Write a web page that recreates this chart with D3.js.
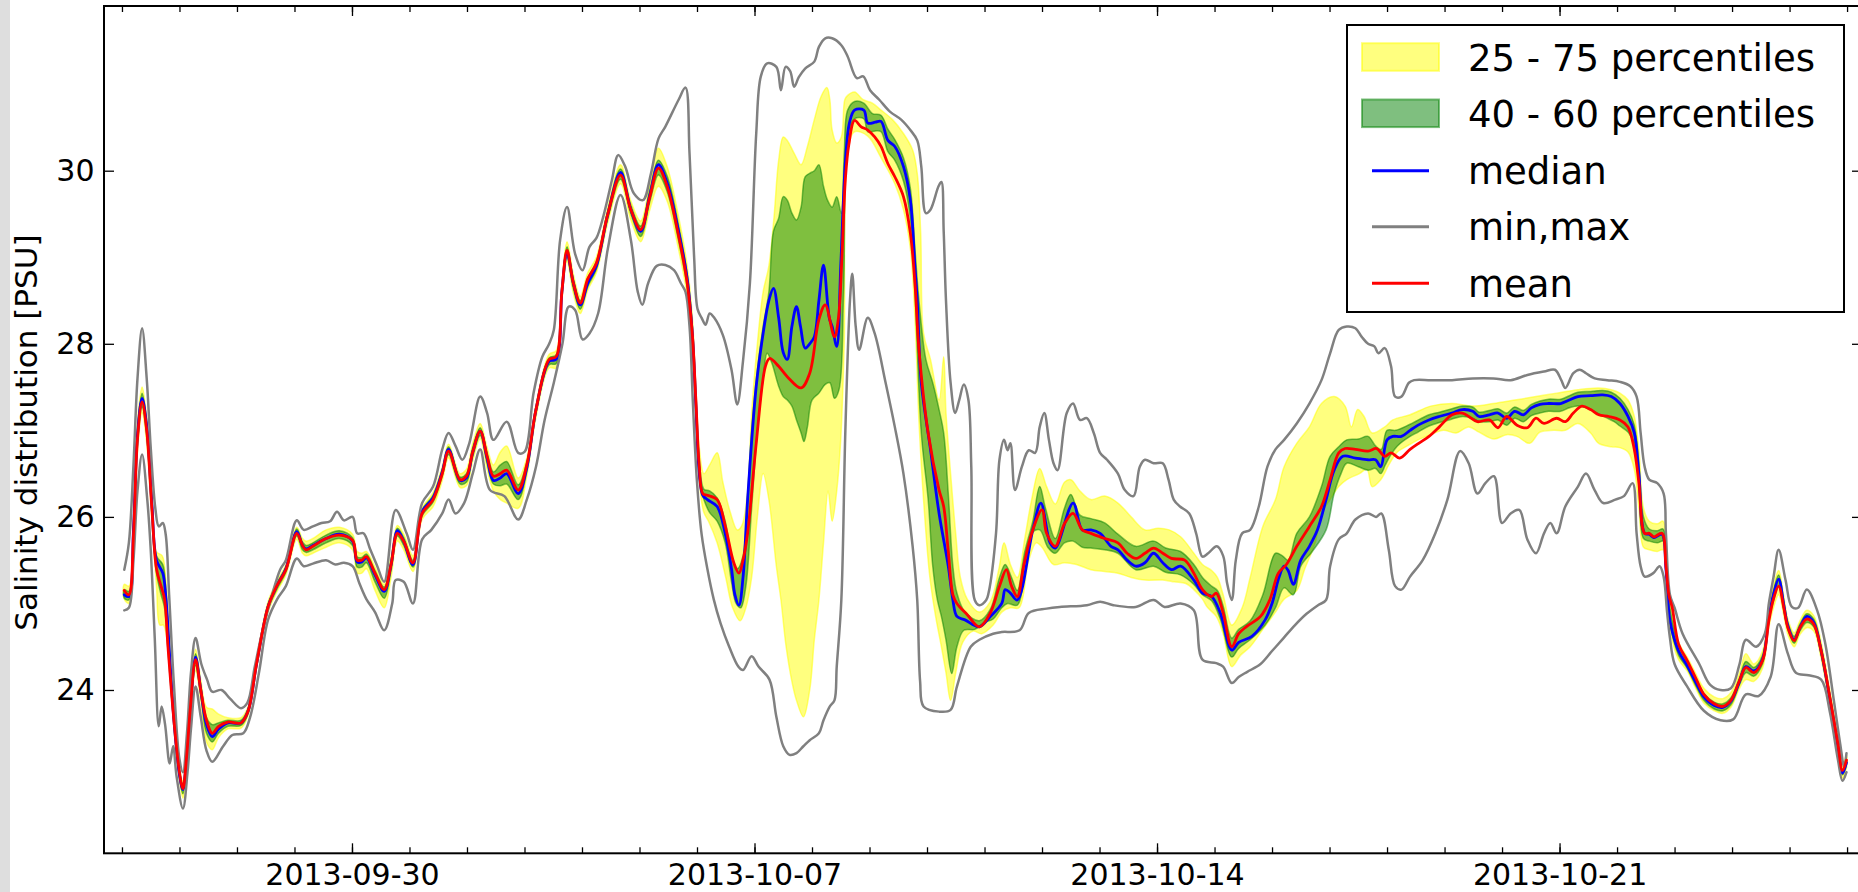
<!DOCTYPE html>
<html><head><meta charset="utf-8">
<script src="https://cdn.jsdelivr.net/npm/d3@7"></script>
<style>
html,body{margin:0;padding:0;background:#fff;}
svg{display:block;font-family:"DejaVu Sans",sans-serif;}
</style></head><body>
<svg id="chart" width="1858" height="892"></svg>
<script>
// ---------------- data ----------------
const startDate = "2013-09-26T00:00:00Z";           // day offset 0
const xDomain = ["2013-09-25T16:30:00Z", "2013-10-26T06:14:00Z"];
const yDomain = [22.113, 31.903];
const xTickLabels = ["2013-09-30", "2013-10-07", "2013-10-14", "2013-10-21"];
const yTickValues = [24, 26, 28, 30];
const yLabel = "Salinity distribution [PSU]";
const legendLabels = ["25 - 75 percentiles", "40 - 60 percentiles", "median", "min,max", "mean"];

// each series: [day offset from startDate, salinity PSU]
const meanLine = [[0.04,25.15],[0.12,25.1],[0.2,25.8],[0.27,26.9],[0.35,27.33],[0.43,27.0],[0.52,26.1],[0.6,25.4],[0.68,25.2],[0.74,25.05],[0.8,24.5],[0.91,23.6],[1.0,23.05],[1.06,22.86],[1.12,23.2],[1.19,23.8],[1.28,24.35],[1.37,24.0],[1.47,23.65],[1.57,23.5],[1.68,23.58],[1.84,23.63],[2.07,23.62],[2.19,23.75],[2.34,24.3],[2.54,24.96],[2.69,25.2],[2.85,25.39],[3.04,25.81],[3.14,25.67],[3.2,25.62],[3.32,25.66],[3.55,25.75],[3.78,25.79],[4.01,25.73],[4.09,25.5],[4.17,25.5],[4.25,25.54],[4.4,25.35],[4.56,25.16],[4.68,25.45],[4.79,25.81],[4.9,25.72],[5.06,25.47],[5.22,26.04],[5.41,26.2],[5.57,26.5],[5.68,26.76],[5.88,26.43],[5.99,26.47],[6.1,26.75],[6.23,26.99],[6.35,26.7],[6.46,26.47],[6.58,26.5],[6.69,26.54],[6.89,26.31],[7.04,26.6],[7.2,27.24],[7.43,27.82],[7.55,27.85],[7.65,28.6],[7.74,29.08],[7.85,28.7],[7.97,28.47],[8.1,28.75],[8.25,28.93],[8.45,29.5],[8.67,29.95],[8.85,29.55],[9.02,29.32],[9.18,29.7],[9.33,30.03],[9.48,29.82],[9.67,29.28],[9.83,28.7],[9.92,28.1],[9.98,27.35],[10.04,26.58],[10.1,26.27],[10.18,26.25],[10.35,26.2],[10.49,25.9],[10.64,25.47],[10.73,25.35],[10.8,25.5],[10.88,25.81],[11.03,26.85],[11.19,27.74],[11.26,27.83],[11.42,27.74],[11.57,27.62],[11.81,27.49],[11.96,27.66],[12.12,28.28],[12.23,28.45],[12.39,28.08],[12.46,28.3],[12.52,29.0],[12.58,29.9],[12.64,30.3],[12.74,30.58],[12.85,30.51],[12.97,30.47],[13.09,30.39],[13.2,30.28],[13.32,30.08],[13.44,29.93],[13.59,29.7],[13.71,29.28],[13.79,28.7],[13.86,27.93],[14.02,26.97],[14.21,26.31],[14.29,26.12],[14.37,25.6],[14.45,25.1],[14.52,25.0],[14.7,24.87],[14.91,24.73],[15.1,24.89],[15.26,25.2],[15.38,25.39],[15.47,25.2],[15.57,25.08],[15.68,25.43],[15.82,25.81],[16.0,26.08],[16.08,25.81],[16.23,25.66],[16.39,25.92],[16.54,26.04],[16.7,25.85],[16.85,25.81],[17.09,25.75],[17.32,25.7],[17.48,25.58],[17.63,25.52],[17.79,25.58],[17.94,25.64],[18.1,25.58],[18.25,25.52],[18.48,25.5],[18.64,25.35],[18.79,25.16],[18.95,25.08],[19.03,25.12],[19.15,24.89],[19.3,24.5],[19.42,24.65],[19.55,24.73],[19.8,24.85],[19.96,25.04],[20.11,25.35],[20.25,25.45],[20.43,25.66],[20.65,25.89],[20.86,26.12],[21.01,26.43],[21.16,26.74],[21.27,26.79],[21.45,26.78],[21.67,26.76],[21.82,26.79],[21.96,26.7],[22.07,26.74],[22.22,26.68],[22.4,26.78],[22.55,26.85],[22.73,26.93],[22.91,27.04],[23.13,27.18],[23.31,27.2],[23.42,27.16],[23.57,27.1],[23.78,27.12],[23.93,27.03],[24.08,27.16],[24.26,27.06],[24.44,27.03],[24.59,27.14],[24.73,27.08],[24.95,27.14],[25.1,27.1],[25.24,27.2],[25.39,27.28],[25.54,27.24],[25.68,27.18],[25.86,27.16],[26.05,27.12],[26.19,27.04],[26.3,26.78],[26.38,26.39],[26.48,25.81],[26.56,25.81],[26.64,25.77],[26.78,25.81],[26.85,25.43],[26.9,25.1],[26.96,24.95],[27.07,24.53],[27.22,24.34],[27.36,24.15],[27.51,23.95],[27.69,23.84],[27.84,23.81],[27.98,23.88],[28.13,24.11],[28.24,24.26],[28.38,24.2],[28.53,24.34],[28.64,24.8],[28.72,25.05],[28.81,25.2],[28.9,24.95],[28.97,24.72],[29.08,24.57],[29.18,24.72],[29.3,24.82],[29.42,24.76],[29.55,24.45],[29.7,23.92],[29.84,23.38],[29.92,23.07],[29.99,23.19]];

const medianLine = [[0.04,25.1],[0.12,25.08],[0.2,25.85],[0.27,26.95],[0.35,27.37],[0.43,27.05],[0.52,26.15],[0.6,25.5],[0.71,25.35],[0.76,25.1],[0.82,24.5],[0.91,23.6],[1.0,23.02],[1.06,22.85],[1.12,23.2],[1.19,23.8],[1.28,24.38],[1.37,24.0],[1.47,23.6],[1.57,23.46],[1.68,23.55],[1.84,23.62],[2.07,23.62],[2.19,23.75],[2.34,24.3],[2.54,24.96],[2.69,25.2],[2.85,25.4],[3.04,25.83],[3.14,25.67],[3.2,25.63],[3.32,25.67],[3.55,25.75],[3.78,25.8],[4.01,25.72],[4.09,25.48],[4.17,25.48],[4.25,25.53],[4.4,25.33],[4.56,25.14],[4.68,25.45],[4.79,25.84],[4.9,25.72],[5.06,25.45],[5.22,26.06],[5.41,26.22],[5.57,26.52],[5.68,26.78],[5.88,26.42],[5.99,26.45],[6.1,26.75],[6.23,26.99],[6.35,26.68],[6.46,26.42],[6.58,26.45],[6.69,26.5],[6.89,26.27],[7.04,26.57],[7.2,27.24],[7.43,27.8],[7.55,27.82],[7.65,28.6],[7.74,29.05],[7.85,28.7],[7.97,28.45],[8.1,28.7],[8.25,28.9],[8.45,29.5],[8.67,29.98],[8.85,29.55],[9.02,29.3],[9.18,29.72],[9.33,30.07],[9.48,29.86],[9.67,29.33],[9.83,28.75],[9.92,28.1],[9.98,27.3],[10.04,26.5],[10.1,26.25],[10.18,26.2],[10.35,26.12],[10.49,25.81],[10.6,25.4],[10.66,25.1],[10.73,24.98],[10.8,25.3],[10.88,26.2],[11.03,27.51],[11.15,28.12],[11.25,28.5],[11.33,28.64],[11.42,28.3],[11.5,27.9],[11.57,27.82],[11.65,28.2],[11.73,28.43],[11.8,28.2],[11.88,27.95],[11.96,28.0],[12.04,28.08],[12.12,28.5],[12.2,28.91],[12.3,28.3],[12.35,28.2],[12.43,27.97],[12.5,28.9],[12.58,30.1],[12.65,30.55],[12.74,30.7],[12.9,30.7],[12.97,30.55],[13.1,30.56],[13.2,30.57],[13.32,30.35],[13.44,30.28],[13.59,30.05],[13.71,29.66],[13.79,28.89],[13.83,28.5],[13.9,27.55],[14.06,26.78],[14.21,26.04],[14.37,25.43],[14.45,25.04],[14.52,24.85],[14.66,24.81],[14.91,24.73],[15.1,24.85],[15.3,25.0],[15.36,25.16],[15.45,25.12],[15.57,25.04],[15.84,25.85],[15.98,26.16],[16.14,25.7],[16.23,25.64],[16.54,26.16],[16.7,25.85],[16.85,25.85],[17.01,25.81],[17.2,25.66],[17.32,25.62],[17.48,25.5],[17.63,25.43],[17.79,25.47],[17.94,25.58],[18.1,25.47],[18.25,25.39],[18.41,25.43],[18.64,25.27],[18.79,25.12],[18.95,25.08],[19.1,24.89],[19.3,24.46],[19.42,24.55],[19.65,24.62],[19.88,24.81],[20.0,25.0],[20.12,25.3],[20.21,25.43],[20.28,25.38],[20.37,25.22],[20.5,25.5],[20.65,25.66],[20.79,25.85],[20.94,26.2],[21.08,26.54],[21.23,26.7],[21.45,26.68],[21.67,26.66],[21.8,26.66],[21.89,26.58],[22.0,26.89],[22.1,26.93],[22.25,26.93],[22.4,27.0],[22.54,27.06],[22.73,27.12],[22.91,27.16],[23.13,27.2],[23.31,27.24],[23.49,27.22],[23.6,27.16],[23.78,27.18],[23.93,27.2],[24.08,27.14],[24.22,27.22],[24.37,27.18],[24.51,27.26],[24.66,27.3],[24.81,27.31],[25.02,27.31],[25.17,27.35],[25.32,27.39],[25.54,27.4],[25.75,27.41],[25.9,27.39],[26.05,27.31],[26.19,27.16],[26.3,26.97],[26.38,26.5],[26.48,25.81],[26.56,25.8],[26.64,25.76],[26.78,25.8],[26.85,25.4],[26.92,24.8],[27.07,24.45],[27.22,24.28],[27.36,24.1],[27.51,23.92],[27.69,23.82],[27.84,23.8],[27.98,23.87],[28.13,24.1],[28.24,24.27],[28.38,24.22],[28.53,24.35],[28.64,24.85],[28.72,25.1],[28.81,25.28],[28.9,24.98],[28.97,24.74],[29.08,24.58],[29.18,24.72],[29.3,24.85],[29.42,24.78],[29.55,24.45],[29.7,23.9],[29.84,23.35],[29.92,23.04],[29.99,23.16]];

const maxLine = [[0.04,25.39],[0.12,25.7],[0.2,26.6],[0.27,27.6],[0.35,28.18],[0.43,27.6],[0.5,26.8],[0.58,26.1],[0.64,25.89],[0.71,25.93],[0.76,25.8],[0.82,25.1],[0.9,24.1],[1.0,23.2],[1.06,23.05],[1.13,23.5],[1.2,24.2],[1.28,24.6],[1.38,24.3],[1.48,24.12],[1.57,23.98],[1.73,24.0],[1.88,23.9],[2.07,23.79],[2.18,23.85],[2.31,24.27],[2.45,24.7],[2.62,25.12],[2.75,25.39],[2.85,25.5],[3.04,25.96],[3.16,25.85],[3.32,25.89],[3.47,25.93],[3.62,25.95],[3.74,26.06],[3.86,25.96],[4.01,26.0],[4.09,25.81],[4.2,25.81],[4.32,25.62],[4.44,25.43],[4.56,25.25],[4.76,26.08],[4.95,25.81],[5.06,25.62],[5.22,26.16],[5.41,26.35],[5.57,26.78],[5.68,26.97],[5.8,26.82],[5.92,26.66],[6.04,26.85],[6.23,27.39],[6.35,27.2],[6.46,26.89],[6.69,27.1],[6.89,26.74],[7.0,26.75],[7.16,27.44],[7.31,27.85],[7.43,28.0],[7.51,28.16],[7.62,29.2],[7.74,29.58],[7.88,29.04],[8.01,28.85],[8.13,29.12],[8.25,29.22],[8.37,29.47],[8.52,29.89],[8.63,30.18],[8.75,30.05],[8.9,29.74],[9.06,29.66],[9.2,29.97],[9.33,30.37],[9.45,30.51],[9.68,30.82],[9.8,30.96],[9.87,30.2],[9.95,29.0],[10.01,28.4],[10.08,28.3],[10.15,28.22],[10.22,28.35],[10.3,28.3],[10.45,28.1],[10.6,27.7],[10.7,27.3],[10.8,27.8],[10.92,28.7],[11.03,30.43],[11.11,31.09],[11.22,31.24],[11.38,31.2],[11.46,30.93],[11.54,31.2],[11.62,31.15],[11.69,30.97],[11.77,31.08],[11.88,31.18],[12.04,31.26],[12.12,31.43],[12.23,31.53],[12.35,31.53],[12.51,31.45],[12.62,31.32],[12.78,31.07],[12.89,31.09],[13.01,30.93],[13.17,30.82],[13.36,30.68],[13.55,30.59],[13.71,30.47],[13.83,30.35],[13.9,30.05],[13.98,29.51],[14.06,29.55],[14.2,29.82],[14.25,29.87],[14.29,29.3],[14.33,28.5],[14.41,27.55],[14.49,27.2],[14.56,27.35],[14.64,27.53],[14.72,27.35],[14.77,26.58],[14.83,25.04],[14.91,24.98],[15.03,25.04],[15.07,25.12],[15.2,25.81],[15.26,26.66],[15.34,26.89],[15.4,26.77],[15.45,26.85],[15.53,26.31],[15.65,26.58],[15.77,26.77],[15.88,26.74],[15.96,27.04],[16.04,27.2],[16.12,26.89],[16.2,26.62],[16.27,26.54],[16.43,27.2],[16.54,27.31],[16.66,27.12],[16.78,27.14],[16.9,26.97],[17.01,26.74],[17.13,26.66],[17.32,26.5],[17.44,26.31],[17.59,26.24],[17.7,26.58],[17.79,26.66],[17.94,26.62],[18.1,26.62],[18.2,26.43],[18.29,26.2],[18.4,26.12],[18.56,26.04],[18.68,25.81],[18.79,25.54],[18.89,25.58],[19.04,25.66],[19.15,25.55],[19.22,25.23],[19.3,25.04],[19.37,25.5],[19.48,25.81],[19.62,25.85],[19.77,26.12],[19.92,26.58],[20.06,26.78],[20.21,26.89],[20.43,27.08],[20.65,27.31],[20.86,27.58],[21.01,27.89],[21.16,28.16],[21.3,28.2],[21.45,28.18],[21.56,28.08],[21.67,28.0],[21.78,27.97],[21.85,27.89],[21.96,27.95],[22.07,27.74],[22.14,27.39],[22.25,27.39],[22.38,27.55],[22.47,27.58],[22.76,27.58],[23.13,27.58],[23.49,27.6],[23.85,27.6],[24.15,27.58],[24.44,27.64],[24.73,27.68],[24.92,27.7],[25.03,27.58],[25.1,27.49],[25.24,27.66],[25.35,27.7],[25.46,27.66],[25.61,27.6],[25.83,27.58],[26.05,27.56],[26.23,27.51],[26.34,27.39],[26.41,26.97],[26.48,26.58],[26.56,26.43],[26.7,26.39],[26.81,26.27],[26.85,25.81],[26.92,25.1],[27.0,24.95],[27.14,24.65],[27.43,24.3],[27.62,24.06],[27.8,24.0],[27.98,24.02],[28.13,24.3],[28.24,24.58],[28.42,24.5],[28.57,24.65],[28.64,25.0],[28.72,25.3],[28.81,25.62],[28.93,25.27],[29.04,24.96],[29.15,24.95],[29.3,25.16],[29.48,24.92],[29.62,24.54],[29.77,23.88],[29.88,23.38],[29.95,23.11],[29.99,23.27]];

const minLine = [[0.04,24.92],[0.12,24.95],[0.2,25.5],[0.27,26.3],[0.35,26.72],[0.44,26.2],[0.5,25.62],[0.57,24.6],[0.64,23.58],[0.69,23.81],[0.75,23.6],[0.83,23.15],[0.89,23.35],[0.95,23.0],[1.06,22.63],[1.14,23.05],[1.2,23.55],[1.28,24.04],[1.37,23.69],[1.47,23.3],[1.57,23.17],[1.76,23.35],[1.92,23.48],[2.11,23.5],[2.23,23.69],[2.38,24.19],[2.54,24.81],[2.7,25.05],[2.85,25.2],[3.04,25.52],[3.16,25.43],[3.32,25.46],[3.55,25.5],[3.71,25.45],[3.86,25.47],[4.01,25.43],[4.13,25.23],[4.25,25.05],[4.4,24.9],[4.56,24.69],[4.7,25.0],[4.76,25.27],[4.9,25.25],[5.06,25.0],[5.22,25.74],[5.38,25.85],[5.57,26.04],[5.68,26.2],[5.8,26.04],[5.95,26.16],[6.1,26.5],[6.23,26.78],[6.4,26.31],[6.65,26.24],[6.89,25.97],[7.04,26.2],[7.2,26.58],[7.35,27.12],[7.51,27.55],[7.66,28.0],[7.77,28.43],[7.88,28.39],[8.01,28.05],[8.13,28.12],[8.28,28.35],[8.45,29.1],[8.67,29.72],[8.85,29.2],[8.97,28.6],[9.05,28.45],[9.15,28.7],[9.3,28.9],[9.45,28.91],[9.6,28.85],[9.72,28.7],[9.8,28.6],[9.87,28.2],[9.93,27.3],[10.0,26.4],[10.08,25.8],[10.18,25.4],[10.29,25.05],[10.41,24.77],[10.56,24.5],[10.72,24.27],[10.8,24.23],[10.95,24.39],[11.07,24.27],[11.26,24.12],[11.38,23.69],[11.5,23.35],[11.61,23.25],[11.73,23.27],[11.85,23.35],[11.96,23.42],[12.12,23.5],[12.2,23.65],[12.31,23.81],[12.39,23.88],[12.43,24.27],[12.51,25.04],[12.58,27.0],[12.66,28.5],[12.7,28.81],[12.76,28.2],[12.82,27.93],[12.97,28.3],[13.09,28.12],[13.28,27.55],[13.44,27.04],[13.59,26.5],[13.75,25.66],[13.83,25.04],[13.88,24.1],[13.94,23.81],[14.21,23.75],[14.41,23.77],[14.52,24.04],[14.76,24.5],[14.91,24.58],[15.15,24.65],[15.3,24.67],[15.61,24.69],[15.77,24.89],[16.08,24.94],[16.31,24.96],[16.78,24.98],[17.01,25.02],[17.24,24.98],[17.63,24.96],[17.94,25.04],[18.13,24.96],[18.41,25.0],[18.64,24.92],[18.79,24.35],[19.03,24.31],[19.15,24.27],[19.3,24.08],[19.42,24.15],[19.57,24.21],[19.8,24.3],[20.0,24.45],[20.2,24.6],[20.4,24.75],[20.6,24.88],[20.8,24.98],[20.94,25.04],[21.01,25.43],[21.16,25.74],[21.3,25.81],[21.45,25.97],[21.67,26.04],[21.81,26.0],[21.9,26.04],[22.03,25.62],[22.14,25.2],[22.25,25.16],[22.4,25.31],[22.62,25.5],[22.84,25.81],[23.05,26.2],[23.27,26.76],[23.42,26.62],[23.57,26.27],[23.71,26.39],[23.86,26.47],[24.0,25.93],[24.15,26.04],[24.3,26.08],[24.44,25.74],[24.59,25.58],[24.73,25.81],[24.84,25.93],[24.95,25.81],[25.1,26.12],[25.32,26.35],[25.46,26.5],[25.61,26.31],[25.76,26.16],[25.97,26.2],[26.12,26.24],[26.27,26.39],[26.34,25.81],[26.41,25.43],[26.48,25.31],[26.63,25.35],[26.74,25.43],[26.81,25.31],[26.87,24.9],[26.92,24.6],[27.0,24.3],[27.21,24.05],[27.51,23.76],[27.8,23.65],[28.02,23.66],[28.24,23.95],[28.46,23.93],[28.67,24.15],[28.81,24.76],[28.97,24.42],[29.11,24.2],[29.33,24.17],[29.55,24.12],[29.7,23.75],[29.84,23.2],[29.92,22.95],[29.99,23.05]];

const p75 = [[0.04,25.22],[0.12,25.2],[0.2,26.0],[0.27,27.1],[0.35,27.5],[0.43,27.15],[0.52,26.3],[0.6,25.6],[0.7,25.55],[0.76,25.3],[0.82,24.6],[0.91,23.7],[1.0,23.1],[1.06,22.95],[1.12,23.3],[1.19,23.9],[1.28,24.47],[1.37,24.12],[1.47,23.8],[1.57,23.78],[1.68,23.72],[1.84,23.68],[2.07,23.68],[2.19,23.8],[2.34,24.35],[2.54,25.02],[2.69,25.25],[2.85,25.45],[3.04,25.88],[3.14,25.75],[3.2,25.72],[3.32,25.75],[3.55,25.85],[3.78,25.88],[4.01,25.8],[4.09,25.6],[4.17,25.58],[4.25,25.6],[4.4,25.42],[4.56,25.22],[4.68,25.55],[4.79,25.9],[4.9,25.8],[5.06,25.55],[5.22,26.1],[5.41,26.28],[5.57,26.58],[5.68,26.84],[5.88,26.5],[5.99,26.55],[6.1,26.85],[6.23,27.08],[6.35,26.8],[6.46,26.6],[6.58,26.75],[6.69,26.82],[6.89,26.45],[7.04,26.68],[7.2,27.3],[7.43,27.88],[7.55,27.92],[7.65,28.7],[7.74,29.18],[7.85,28.8],[7.97,28.55],[8.1,28.82],[8.25,29.0],[8.45,29.58],[8.67,30.07],[8.85,29.65],[9.02,29.42],[9.18,29.85],[9.33,30.26],[9.48,30.05],[9.67,29.5],[9.83,28.9],[9.92,28.3],[9.98,27.5],[10.04,26.8],[10.12,26.5],[10.22,26.6],[10.35,26.74],[10.45,26.4],[10.58,26.05],[10.7,25.85],[10.78,25.9],[10.88,26.3],[10.95,27.2],[11.05,28.0],[11.15,28.6],[11.25,28.9],[11.34,29.47],[11.42,30.12],[11.5,30.39],[11.57,30.35],[11.69,30.2],[11.81,30.07],[11.92,30.28],[12.04,30.59],[12.16,30.86],[12.26,30.96],[12.31,30.82],[12.35,30.47],[12.43,30.32],[12.51,30.39],[12.57,30.82],[12.62,30.87],[12.74,30.91],[12.89,30.82],[13.05,30.78],[13.2,30.7],[13.4,30.59],[13.59,30.43],[13.75,30.24],[13.83,29.97],[13.89,29.28],[13.94,28.12],[14.06,27.82],[14.21,27.35],[14.29,27.85],[14.33,27.2],[14.41,26.5],[14.5,25.8],[14.58,25.3],[14.7,25.05],[14.91,24.9],[15.1,25.02],[15.25,25.4],[15.34,25.7],[15.45,25.45],[15.57,25.3],[15.7,25.75],[15.82,26.2],[15.96,26.56],[16.08,26.35],[16.23,26.15],[16.39,26.4],[16.5,26.43],[16.66,26.3],[16.85,26.2],[17.09,26.24],[17.32,26.16],[17.55,26.0],[17.79,25.85],[18.02,25.87],[18.21,25.85],[18.41,25.77],[18.64,25.58],[18.79,25.45],[18.95,25.38],[19.05,25.3],[19.15,25.1],[19.3,24.75],[19.48,24.95],[19.62,25.3],[19.84,25.89],[20.06,26.2],[20.21,26.58],[20.43,26.85],[20.65,27.04],[20.86,27.31],[21.08,27.39],[21.27,27.28],[21.38,27.04],[21.49,27.24],[21.6,27.16],[21.74,26.97],[21.96,27.04],[22.1,27.12],[22.4,27.18],[22.76,27.28],[23.13,27.31],[23.49,27.28],[23.85,27.31],[24.22,27.35],[24.59,27.39],[24.95,27.43],[25.32,27.47],[25.68,27.49],[25.9,27.47],[26.05,27.43],[26.19,27.35],[26.3,27.16],[26.38,26.78],[26.46,26.1],[26.56,25.95],[26.7,25.92],[26.8,25.95],[26.86,25.5],[26.92,25.0],[27.07,24.55],[27.22,24.38],[27.36,24.2],[27.51,24.02],[27.69,23.92],[27.84,23.9],[27.98,23.97],[28.13,24.2],[28.24,24.42],[28.38,24.3],[28.53,24.45],[28.64,24.92],[28.72,25.2],[28.81,25.38],[28.9,25.08],[28.97,24.82],[29.08,24.66],[29.18,24.8],[29.3,24.92],[29.42,24.86],[29.55,24.55],[29.7,24.0],[29.84,23.45],[29.92,23.12],[29.99,23.25]];

const p60 = [[0.04,25.16],[0.12,25.14],[0.2,25.92],[0.27,27.02],[0.35,27.43],[0.43,27.1],[0.52,26.22],[0.6,25.55],[0.71,25.45],[0.76,25.18],[0.82,24.55],[0.91,23.65],[1.0,23.06],[1.06,22.9],[1.12,23.25],[1.19,23.85],[1.28,24.42],[1.37,24.06],[1.47,23.68],[1.57,23.6],[1.68,23.62],[1.84,23.65],[2.07,23.65],[2.19,23.78],[2.34,24.32],[2.54,24.99],[2.69,25.23],[2.85,25.42],[3.04,25.86],[3.14,25.71],[3.2,25.67],[3.32,25.7],[3.55,25.79],[3.78,25.84],[4.01,25.76],[4.09,25.54],[4.17,25.53],[4.25,25.57],[4.4,25.38],[4.56,25.19],[4.68,25.5],[4.79,25.87],[4.9,25.76],[5.06,25.5],[5.22,26.08],[5.41,26.25],[5.57,26.55],[5.68,26.81],[5.88,26.46],[5.99,26.5],[6.1,26.8],[6.23,27.03],[6.35,26.74],[6.46,26.52],[6.58,26.6],[6.69,26.64],[6.89,26.37],[7.04,26.63],[7.2,27.27],[7.43,27.84],[7.55,27.87],[7.65,28.65],[7.74,29.12],[7.85,28.75],[7.97,28.5],[8.1,28.76],[8.25,28.95],[8.45,29.54],[8.67,30.02],[8.85,29.6],[9.02,29.36],[9.18,29.78],[9.33,30.12],[9.48,29.94],[9.67,29.4],[9.83,28.8],[9.92,28.2],[9.98,27.4],[10.04,26.65],[10.12,26.32],[10.22,26.3],[10.35,26.22],[10.49,25.95],[10.6,25.55],[10.7,25.4],[10.8,25.55],[10.88,26.25],[10.95,27.0],[11.05,27.7],[11.15,28.2],[11.25,28.6],[11.33,29.3],[11.42,29.45],[11.5,29.7],[11.57,29.66],[11.65,29.51],[11.73,29.43],[11.81,29.58],[11.88,29.93],[11.96,29.97],[12.04,30.0],[12.12,30.07],[12.2,29.82],[12.27,29.66],[12.35,29.58],[12.43,29.7],[12.51,29.51],[12.56,30.2],[12.62,30.7],[12.74,30.8],[12.9,30.78],[13.05,30.66],[13.2,30.64],[13.32,30.48],[13.44,30.36],[13.59,30.15],[13.71,29.8],[13.79,29.1],[13.86,28.5],[13.98,27.82],[14.1,27.55],[14.21,27.24],[14.29,26.97],[14.37,26.27],[14.45,25.43],[14.52,25.12],[14.66,24.9],[14.91,24.8],[15.1,24.93],[15.26,25.3],[15.36,25.45],[15.47,25.3],[15.57,25.15],[15.7,25.6],[15.84,25.95],[15.96,26.35],[16.06,26.1],[16.23,25.75],[16.39,26.1],[16.5,26.26],[16.66,26.02],[16.85,25.98],[17.09,25.93],[17.32,25.8],[17.63,25.66],[17.94,25.72],[18.15,25.64],[18.41,25.6],[18.64,25.45],[18.79,25.3],[18.95,25.2],[19.05,25.15],[19.15,24.97],[19.3,24.6],[19.42,24.7],[19.62,24.8],[19.84,25.1],[20.06,25.58],[20.18,25.55],[20.28,25.5],[20.43,25.81],[20.65,26.0],[20.86,26.35],[21.01,26.7],[21.16,26.81],[21.3,26.89],[21.5,26.9],[21.67,26.93],[21.8,26.82],[21.9,26.78],[22.0,27.0],[22.15,27.0],[22.4,27.07],[22.73,27.18],[22.91,27.21],[23.13,27.25],[23.31,27.28],[23.49,27.27],[23.6,27.21],[23.78,27.23],[23.93,27.25],[24.08,27.2],[24.22,27.27],[24.37,27.23],[24.51,27.3],[24.66,27.34],[24.81,27.36],[25.02,27.36],[25.17,27.4],[25.32,27.44],[25.54,27.45],[25.75,27.46],[25.9,27.44],[26.05,27.37],[26.19,27.24],[26.3,27.06],[26.38,26.62],[26.46,26.0],[26.56,25.86],[26.7,25.84],[26.8,25.86],[26.86,25.45],[26.92,24.95],[27.07,24.52],[27.22,24.33],[27.36,24.15],[27.51,23.96],[27.69,23.86],[27.84,23.84],[27.98,23.91],[28.13,24.14],[28.24,24.33],[28.38,24.26],[28.53,24.4],[28.64,24.88],[28.72,25.15],[28.81,25.33],[28.9,25.03],[28.97,24.78],[29.08,24.62],[29.18,24.76],[29.3,24.88],[29.42,24.82],[29.55,24.5],[29.7,23.95],[29.84,23.4],[29.92,23.08],[29.99,23.2]];

const p40 = [[0.04,25.06],[0.12,25.04],[0.2,25.75],[0.27,26.85],[0.35,27.27],[0.43,26.95],[0.52,26.05],[0.6,25.35],[0.68,25.1],[0.74,24.95],[0.8,24.45],[0.91,23.55],[1.0,22.98],[1.06,22.8],[1.12,23.15],[1.19,23.75],[1.28,24.28],[1.37,23.94],[1.47,23.5],[1.57,23.4],[1.68,23.5],[1.84,23.58],[2.07,23.59],[2.19,23.72],[2.34,24.27],[2.54,24.93],[2.69,25.16],[2.85,25.36],[3.04,25.78],[3.14,25.62],[3.2,25.59],[3.32,25.62],[3.55,25.7],[3.78,25.75],[4.01,25.67],[4.09,25.42],[4.17,25.42],[4.25,25.47],[4.4,25.25],[4.56,25.06],[4.68,25.38],[4.79,25.78],[4.9,25.67],[5.06,25.42],[5.22,26.01],[5.41,26.17],[5.57,26.47],[5.68,26.72],[5.88,26.38],[5.99,26.4],[6.1,26.7],[6.23,26.94],[6.35,26.62],[6.46,26.38],[6.58,26.36],[6.69,26.38],[6.89,26.2],[7.04,26.52],[7.2,27.2],[7.43,27.76],[7.55,27.77],[7.65,28.55],[7.74,29.0],[7.85,28.64],[7.97,28.4],[8.1,28.66],[8.25,28.86],[8.45,29.45],[8.67,29.9],[8.85,29.5],[9.02,29.24],[9.18,29.64],[9.33,29.95],[9.48,29.76],[9.67,29.22],[9.83,28.65],[9.92,28.0],[9.98,27.22],[10.04,26.45],[10.12,26.2],[10.22,26.05],[10.35,25.95],[10.49,25.7],[10.6,25.25],[10.68,25.0],[10.76,24.95],[10.85,25.2],[10.95,26.1],[11.05,27.0],[11.15,27.6],[11.22,27.89],[11.3,27.78],[11.42,27.51],[11.5,27.39],[11.57,27.35],[11.65,27.28],[11.73,27.12],[11.81,26.97],[11.86,26.87],[11.92,27.04],[12.0,27.35],[12.12,27.43],[12.23,27.53],[12.31,27.55],[12.39,27.37],[12.47,27.47],[12.55,28.6],[12.62,30.35],[12.74,30.6],[12.9,30.6],[12.97,30.45],[13.1,30.46],[13.2,30.45],[13.32,30.22],[13.44,30.12],[13.59,29.88],[13.71,29.45],[13.79,28.6],[13.9,26.97],[14.02,26.2],[14.1,25.43],[14.18,25.04],[14.25,24.85],[14.33,24.58],[14.43,24.19],[14.52,24.5],[14.64,24.69],[14.83,24.7],[15.0,24.78],[15.15,24.82],[15.3,24.95],[15.4,25.0],[15.57,24.98],[15.7,25.45],[15.81,25.81],[15.96,25.85],[16.1,25.65],[16.23,25.58],[16.39,25.7],[16.54,25.72],[16.7,25.65],[16.85,25.64],[17.09,25.62],[17.32,25.58],[17.63,25.39],[17.94,25.43],[18.15,25.36],[18.41,25.33],[18.64,25.22],[18.79,25.1],[18.95,25.03],[19.1,24.82],[19.3,24.38],[19.42,24.48],[19.62,24.58],[19.88,24.75],[20.06,24.95],[20.21,25.18],[20.37,25.1],[20.5,25.43],[20.7,25.6],[20.94,25.85],[21.08,26.27],[21.2,26.5],[21.3,26.62],[21.5,26.58],[21.67,26.54],[21.8,26.56],[21.89,26.5],[21.97,26.6],[22.05,26.7],[22.18,26.82],[22.4,26.93],[22.54,26.98],[22.73,27.05],[22.91,27.09],[23.13,27.13],[23.31,27.16],[23.49,27.14],[23.6,27.1],[23.78,27.1],[23.93,27.12],[24.08,27.06],[24.22,27.14],[24.37,27.1],[24.51,27.17],[24.66,27.2],[24.81,27.22],[25.02,27.22],[25.17,27.26],[25.32,27.28],[25.5,27.25],[25.65,27.2],[25.8,27.15],[25.95,27.1],[26.05,27.05],[26.19,26.98],[26.3,26.85],[26.38,26.4],[26.46,25.75],[26.56,25.72],[26.7,25.7],[26.8,25.72],[26.86,25.35],[26.92,24.78],[27.07,24.4],[27.22,24.25],[27.36,24.06],[27.51,23.88],[27.69,23.78],[27.84,23.76],[27.98,23.83],[28.13,24.06],[28.24,24.2],[28.38,24.16],[28.53,24.3],[28.64,24.8],[28.72,25.03],[28.81,25.2],[28.9,24.92],[28.97,24.7],[29.08,24.54],[29.18,24.68],[29.3,24.78],[29.42,24.73],[29.55,24.4],[29.7,23.86],[29.84,23.34],[29.92,23.02],[29.99,23.14]];

const p25 = [[0.04,25.05],[0.12,25.0],[0.2,25.65],[0.27,26.75],[0.35,27.2],[0.43,26.85],[0.52,25.95],[0.6,25.2],[0.66,24.75],[0.72,24.75],[0.78,24.6],[0.85,24.1],[0.91,23.5],[1.0,22.95],[1.06,22.75],[1.12,23.1],[1.19,23.7],[1.28,24.22],[1.37,23.88],[1.47,23.4],[1.57,23.31],[1.68,23.45],[1.84,23.55],[2.07,23.56],[2.19,23.7],[2.34,24.25],[2.54,24.9],[2.69,25.13],[2.85,25.33],[3.04,25.74],[3.14,25.58],[3.2,25.55],[3.32,25.58],[3.55,25.65],[3.78,25.7],[4.01,25.62],[4.09,25.35],[4.17,25.35],[4.25,25.4],[4.4,25.15],[4.56,24.95],[4.68,25.3],[4.79,25.72],[4.9,25.62],[5.06,25.37],[5.22,25.97],[5.41,26.12],[5.57,26.42],[5.68,26.68],[5.88,26.34],[5.99,26.36],[6.1,26.65],[6.23,26.9],[6.35,26.55],[6.46,26.3],[6.58,26.2],[6.69,26.16],[6.89,26.1],[7.04,26.47],[7.2,27.15],[7.43,27.72],[7.55,27.72],[7.65,28.5],[7.74,28.95],[7.85,28.58],[7.97,28.35],[8.1,28.62],[8.25,28.82],[8.45,29.4],[8.67,29.85],[8.85,29.43],[9.02,29.18],[9.18,29.55],[9.33,29.82],[9.48,29.65],[9.67,29.12],[9.83,28.55],[9.92,27.9],[9.98,27.15],[10.04,26.4],[10.12,26.05],[10.2,25.95],[10.35,25.7],[10.5,25.3],[10.62,24.95],[10.75,24.8],[10.85,24.95],[10.95,25.3],[11.05,26.0],[11.15,26.5],[11.25,26.2],[11.38,25.43],[11.46,25.04],[11.55,24.5],[11.65,24.1],[11.73,23.88],[11.85,23.69],[11.96,24.0],[12.04,24.58],[12.12,25.04],[12.2,25.7],[12.28,26.3],[12.35,25.95],[12.43,26.3],[12.5,26.9],[12.56,28.0],[12.62,30.2],[12.74,30.45],[12.97,30.4],[13.2,30.15],[13.44,29.85],[13.59,29.55],[13.71,29.1],[13.79,28.3],[13.86,27.1],[13.95,26.1],[14.05,25.3],[14.15,24.85],[14.25,24.5],[14.33,24.2],[14.41,23.88],[14.5,24.2],[14.62,24.55],[14.8,24.68],[14.95,24.65],[15.15,24.75],[15.3,24.9],[15.45,24.95],[15.6,24.95],[15.77,25.5],[15.9,25.7],[16.0,25.65],[16.2,25.45],[16.39,25.47],[16.6,25.45],[16.85,25.39],[17.09,25.37],[17.32,25.35],[17.55,25.3],[17.79,25.27],[18.1,25.27],[18.3,25.25],[18.5,25.23],[18.64,25.16],[18.79,25.05],[18.87,24.96],[19.03,24.85],[19.15,24.65],[19.3,24.27],[19.45,24.4],[19.62,24.5],[19.84,24.7],[20.06,24.9],[20.21,25.05],[20.43,25.15],[20.57,25.4],[20.75,25.7],[20.86,26.04],[21.01,26.2],[21.16,26.35],[21.3,26.43],[21.52,26.5],[21.65,26.55],[21.74,26.35],[21.89,26.43],[22.03,26.6],[22.18,26.75],[22.35,26.82],[22.54,26.89],[22.76,26.95],[22.98,27.0],[23.2,26.97],[23.42,27.04],[23.6,26.98],[23.86,26.9],[24.08,26.95],[24.26,26.93],[24.48,26.85],[24.66,26.98],[24.9,27.0],[25.1,27.0],[25.32,27.08],[25.54,26.97],[25.68,26.85],[25.9,26.81],[26.05,26.8],[26.19,26.75],[26.3,26.55],[26.38,26.1],[26.46,25.65],[26.56,25.62],[26.7,25.6],[26.8,25.62],[26.86,25.3],[26.92,24.7],[27.07,24.35],[27.22,24.22],[27.36,24.03],[27.51,23.85],[27.69,23.76],[27.84,23.73],[27.98,23.8],[28.13,24.02],[28.24,24.12],[28.38,24.1],[28.53,24.25],[28.64,24.72],[28.72,24.95],[28.81,25.1],[28.9,24.86],[28.97,24.64],[29.08,24.5],[29.18,24.64],[29.3,24.72],[29.42,24.68],[29.55,24.36],[29.7,23.82],[29.84,23.3],[29.92,22.98],[29.99,23.1]];

// ---------------- drawing ----------------
const W = 1858, H = 892;
const plot = {left: 104, right: 1862, top: 6, bottom: 853.3};
const svg = d3.select("#chart");
svg.append("rect").attr("width", W).attr("height", H).attr("fill", "#fff");
svg.append("rect").attr("x", 0).attr("y", 0).attr("width", 10).attr("height", H).attr("fill", "#dedede");

const t0 = d3.isoParse(startDate).getTime();
const toDate = d => new Date(t0 + d * 864e5);
const x = d3.scaleUtc().domain(xDomain.map(d3.isoParse)).range([plot.left, plot.right]);
const y = d3.scaleLinear().domain(yDomain).range([plot.bottom, plot.top]);

svg.append("defs").append("clipPath").attr("id", "clip")
  .append("rect").attr("x", plot.left).attr("y", plot.top)
  .attr("width", plot.right - plot.left).attr("height", plot.bottom - plot.top);
const g = svg.append("g").attr("clip-path", "url(#clip)");

const lineGen = d3.line().x(d => x(toDate(d[0]))).y(d => y(d[1])).curve(d3.curveCatmullRom.alpha(0.5));
const polyGen = d3.line().x(d => x(toDate(d[0]))).y(d => y(d[1])).curve(d3.curveCatmullRomClosed.alpha(0.5));
const band = (upper, lower) => upper.concat(lower.slice().reverse());

g.append("path").attr("d", polyGen(band(p75, p25)))
  .attr("fill", "#ffff00").attr("fill-opacity", 0.5)
  .attr("stroke", "#ffff00").attr("stroke-opacity", 0.5).attr("stroke-width", 1.5);
g.append("path").attr("d", polyGen(band(p60, p40)))
  .attr("fill", "#008000").attr("fill-opacity", 0.5)
  .attr("stroke", "#008000").attr("stroke-opacity", 0.5).attr("stroke-width", 1.5);

const drawLine = (data, color, w) => g.append("path").attr("d", lineGen(data))
  .attr("fill", "none").attr("stroke", color).attr("stroke-width", w)
  .attr("stroke-linejoin", "round").attr("stroke-linecap", "round");
drawLine(medianLine, "#0000ff", 2.8);
drawLine(minLine, "#808080", 2.5);
drawLine(maxLine, "#808080", 2.5);
drawLine(meanLine, "#ff0000", 2.8);

// ---------------- axes ----------------
const parseDay = d3.utcParse("%Y-%m-%d");
const majorDates = xTickLabels.map(parseDay);
const minorDates = d3.utcDay.range(d3.utcDay.ceil(x.domain()[0]), x.domain()[1]);
const fmt = d3.utcFormat("%Y-%m-%d");

function styleAxis(sel, width) {
  sel.select(".domain").remove();
  sel.selectAll(".tick line").attr("stroke", "#000").attr("stroke-width", width);
  sel.selectAll(".tick text").attr("fill", "#000")
     .style("font-family", "'DejaVu Sans', sans-serif").style("font-size", "30px");
}
const bottomMinor = svg.append("g").attr("transform", `translate(0,${plot.bottom})`)
  .call(d3.axisBottom(x).tickValues(minorDates).tickSizeInner(-6).tickSizeOuter(0).tickFormat(""));
styleAxis(bottomMinor, 1.3);
const bottomMajor = svg.append("g").attr("transform", `translate(0,${plot.bottom})`)
  .call(d3.axisBottom(x).tickValues(majorDates).tickSizeInner(-10).tickSizeOuter(0).tickPadding(10).tickFormat(fmt));
styleAxis(bottomMajor, 1.3);
const topMinor = svg.append("g").attr("transform", `translate(0,${plot.top})`)
  .call(d3.axisTop(x).tickValues(minorDates).tickSizeInner(-6).tickSizeOuter(0).tickFormat(""));
styleAxis(topMinor, 1.3);
const topMajor = svg.append("g").attr("transform", `translate(0,${plot.top})`)
  .call(d3.axisTop(x).tickValues(majorDates).tickSizeInner(-10).tickSizeOuter(0).tickFormat(""));
styleAxis(topMajor, 1.3);
const leftAx = svg.append("g").attr("transform", `translate(${plot.left},0)`)
  .call(d3.axisLeft(y).tickValues(yTickValues).tickSizeInner(-10).tickSizeOuter(0).tickPadding(9.5).tickFormat(d3.format("d")));
styleAxis(leftAx, 1.3);
const rightAx = svg.append("g").attr("transform", `translate(${plot.right},0)`)
  .call(d3.axisRight(y).tickValues(yTickValues).tickSizeInner(-10).tickSizeOuter(0).tickFormat(""));
styleAxis(rightAx, 1.3);

// frame
svg.append("rect").attr("x", plot.left).attr("y", plot.top)
  .attr("width", plot.right - plot.left).attr("height", plot.bottom - plot.top)
  .attr("fill", "none").attr("stroke", "#000").attr("stroke-width", 2);

// y label
svg.append("text").attr("transform", `translate(37,${(plot.top + plot.bottom) / 2 + 3}) rotate(-90)`)
  .attr("text-anchor", "middle").style("font-size", "31px").attr("fill", "#000").text(yLabel);

// ---------------- legend ----------------
const lg = svg.append("g");
lg.append("rect").attr("x", 1347).attr("y", 25).attr("width", 497).attr("height", 287)
  .attr("fill", "#fff").attr("stroke", "#000").attr("stroke-width", 2);
const rowY = [57, 113.3, 170.7, 226.7, 283.3];
lg.append("rect").attr("x", 1362).attr("y", rowY[0] - 13.8).attr("width", 77).attr("height", 27.6)
  .attr("fill", "#ffff00").attr("fill-opacity", 0.5).attr("stroke", "#ffff00").attr("stroke-opacity", 0.5).attr("stroke-width", 2);
lg.append("rect").attr("x", 1362).attr("y", rowY[1] - 13.8).attr("width", 77).attr("height", 27.6)
  .attr("fill", "#008000").attr("fill-opacity", 0.5).attr("stroke", "#008000").attr("stroke-opacity", 0.5).attr("stroke-width", 2);
[["#0000ff", 2], ["#808080", 3], ["#ff0000", 4]].forEach(([c, i]) => {
  lg.append("line").attr("x1", 1372).attr("x2", 1429).attr("y1", rowY[i]).attr("y2", rowY[i])
    .attr("stroke", c).attr("stroke-width", 3);
});
const baseY = [71, 127.3, 184, 240, 296.7];
legendLabels.forEach((t, i) => {
  lg.append("text").attr("x", 1468).attr("y", baseY[i]).style("font-size", "37px")
    .attr("fill", "#000").text(t);
});
</script>
</body></html>
